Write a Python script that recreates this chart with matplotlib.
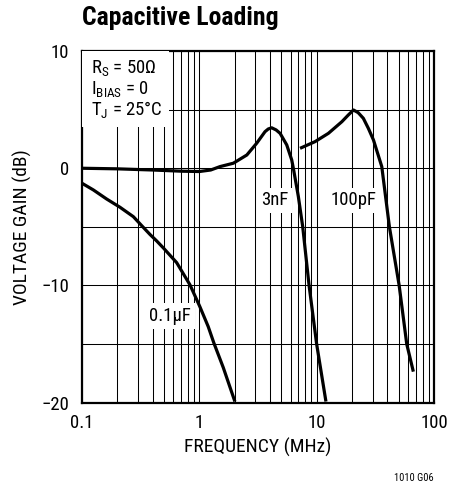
import matplotlib
matplotlib.use("Agg")
import matplotlib.pyplot as plt
from matplotlib.patches import Rectangle
from matplotlib.ticker import FixedLocator, NullFormatter

plt.rcParams['font.family'] = ['Roboto Condensed', 'DejaVu Sans']

# curves (MHz, dB)
freq_3nf = [0.1, 0.2, 0.4, 0.7, 1.0, 1.25, 1.5, 1.95, 2.54, 3.08, 3.63, 3.87, 4.14,
            4.51, 4.88, 5.56, 6.13, 6.33, 6.98, 7.61, 8.62, 10.0, 12.0]
gain_3nf = [0.0, -0.05, -0.15, -0.25, -0.28, -0.15, 0.14, 0.43, 1.13, 2.13, 3.12, 3.35, 3.45,
            3.27, 2.98, 1.99, 0.71, 0.0, -2.4, -5.0, -10.0, -15.0, -19.9]

freq_100pf = [7.22, 9.69, 12.6, 16.4, 18.6, 20.6, 22.6, 25.0, 27.6, 30.5, 35.9,
              41.7, 50.5, 58.6, 66.7]
gain_100pf = [1.7, 2.27, 2.98, 3.97, 4.54, 4.97, 4.74, 4.26, 3.4, 2.41, 0.14,
              -5.0, -10.0, -15.0, -17.35]

freq_01uf = [0.1, 0.125, 0.162, 0.211, 0.274, 0.323, 0.380, 0.433, 0.494, 0.641,
             0.833, 1.01, 1.19, 1.33, 1.60, 2.01]
gain_01uf = [-1.28, -1.85, -2.62, -3.33, -4.13, -4.9, -5.65, -6.2, -6.8, -8.05,
             -9.95, -11.8, -13.5, -14.9, -17.0, -19.9]

curve_labels = ["3nF", "100pF", "0.1\u00b5F"]
label_freq = [4.42, 20.7, 0.565]
label_gain = [-2.75, -2.75, -12.6]

x_major = [0.1, 1, 10, 100]
x_major_labels = ["0.1", "1", "10", "100"]
x_minor = [m * d for d in (0.1, 1, 10) for m in range(2, 10)]
y_major = [-20, -10, 0, 10]
y_minor = [-15, -5, 5]

fig = plt.figure(figsize=(4.64, 4.91), dpi=100)
ax = fig.add_axes([0.1767, 0.1798, 0.7586, 0.7163])

ax.set_xscale('log')
ax.set_xlim(0.1, 100)
ax.set_ylim(-20, 10)

ax.xaxis.set_major_locator(FixedLocator(x_major))
ax.xaxis.set_minor_locator(FixedLocator(x_minor))
ax.xaxis.set_minor_formatter(NullFormatter())
ax.set_xticklabels(x_major_labels)
ax.yaxis.set_major_locator(FixedLocator(y_major))
ax.yaxis.set_minor_locator(FixedLocator(y_minor))

ax.grid(True, which='both', color='black', linewidth=0.75, zorder=1)
ax.set_axisbelow(True)
ax.tick_params(which='both', length=0, labelsize=13.5)
ax.tick_params(axis='x', pad=8)
ax.tick_params(axis='y', pad=9)
for sp in ax.spines.values():
    sp.set_linewidth(1.6)

for f, g in [(freq_3nf, gain_3nf), (freq_100pf, gain_100pf), (freq_01uf, gain_01uf)]:
    ax.plot(f, g, color='black', linewidth=2.3, solid_capstyle='butt',
            solid_joinstyle='round', zorder=4)

for txt, fx, gy in zip(curve_labels, label_freq, label_gain):
    ax.text(fx, gy, txt, fontsize=13.5, ha='center', va='center', zorder=5,
            bbox=dict(boxstyle='square,pad=0.2', facecolor='white', edgecolor='none'))

# conditions box in the upper left
ax.add_patch(Rectangle((0, 0.784), 0.247, 0.216, transform=ax.transAxes,
                       facecolor='white', edgecolor='none', zorder=3))
cond = [r'R$_\mathregular{S}$ = 50Ω',
        r'I$_\mathregular{BIAS}$ = 0',
        r'T$_\mathregular{J}$ = 25°C']
for i, line in enumerate(cond):
    ax.text(0.025, 0.95 - i * 0.06, line, transform=ax.transAxes, fontsize=13.5,
            ha='left', va='center', zorder=5)

ax.set_xlabel('FREQUENCY (MHz)', fontsize=14, labelpad=4)
ax.set_ylabel('VOLTAGE GAIN (dB)', fontsize=14, labelpad=7)

fig.text(0.1767, 0.963, 'Capacitive Loading', fontsize=18.5, fontweight='bold',
         ha='left', va='center')
fig.text(0.935, 0.027, '1010 G06', fontsize=7.5, ha='right', va='center')

fig.savefig('out.png', dpi=100)
